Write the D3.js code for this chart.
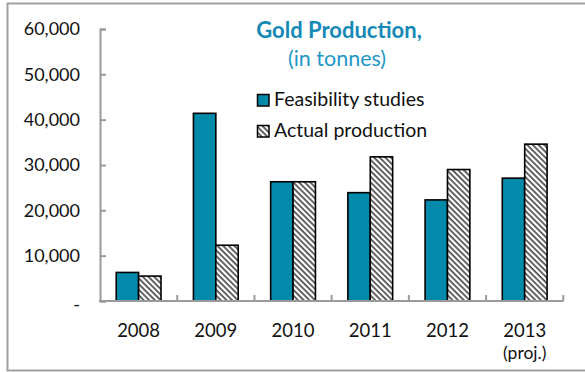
<!DOCTYPE html>
<html>
<head>
<meta charset="utf-8">
<script src="https://cdn.jsdelivr.net/npm/d3@7/dist/d3.min.js"></script>
<style>
  html, body { margin: 0; padding: 0; background: #fff; }
  svg { display: block; font-family: Lato, "Open Sans", sans-serif; }
</style>
</head>
<body>
<svg id="chart" width="585" height="372"></svg>
<script>
// Gold production data (tonnes)
const years = ["2008", "2009", "2010", "2011", "2012", "2013"];
const yearNotes = ["", "", "", "", "", "(proj.)"];
const seriesNames = ["Feasibility studies", "Actual production"];
const feasibility = [6300, 41400, 26300, 23900, 22300, 27100];
const actual = [5500, 12300, 26300, 31800, 29000, 34600];
const yTicks = [0, 10000, 20000, 30000, 40000, 50000, 60000];

const teal = "#0389aa";
const axisGray = "#9a9a9a";

const svg = d3.select("#chart");

// hatch pattern for actual production ("\" stripes)
const defs = svg.append("defs");
const pat = defs.append("pattern")
  .attr("id", "hatch")
  .attr("patternUnits", "userSpaceOnUse")
  .attr("width", 4).attr("height", 4)
  .attr("patternTransform", "rotate(45)");
pat.append("rect").attr("width", 4).attr("height", 4).attr("fill", "#fff");
pat.append("rect").attr("x", 0).attr("y", 0).attr("width", 4).attr("height", 1.7).attr("fill", "#4a4a4a");

// outer frame
svg.append("rect")
  .attr("x", 7.5).attr("y", 3.5)
  .attr("width", 620).attr("height", 367)
  .attr("fill", "none").attr("stroke", "#a0a0a0").attr("stroke-width", 2);

const plot = { left: 100, right: 563.3, top: 29, bottom: 301 };

const y = d3.scaleLinear().domain([0, 60000]).range([plot.bottom, plot.top]);
const x0 = d3.scaleBand().domain(years).range([plot.left, plot.right])
  .paddingInner(0.42).paddingOuter(0.21);
const x1 = d3.scaleBand().domain(seriesNames).range([0, x0.bandwidth()]);

const rows = years.map((yr, i) => ({ year: yr, values: [
  { key: seriesNames[0], value: feasibility[i] },
  { key: seriesNames[1], value: actual[i] }
]}));

// bars
const groups = svg.append("g").selectAll("g").data(rows).join("g")
  .attr("transform", d => `translate(${x0(d.year)},0)`);
groups.selectAll("rect").data(d => d.values).join("rect")
  .attr("x", d => x1(d.key))
  .attr("y", d => y(d.value))
  .attr("width", x1.bandwidth())
  .attr("height", d => y(0) - y(d.value))
  .attr("fill", d => d.key === seriesNames[0] ? teal : "url(#hatch)")
  .attr("stroke", "#000").attr("stroke-width", 1.6);

// y axis with inward ticks
const yAxis = svg.append("g")
  .attr("transform", `translate(${plot.left},0)`)
  .call(d3.axisLeft(y).tickValues(yTicks).tickSize(-6).tickPadding(20)
    .tickFormat(d => d === 0 ? "-" : d3.format(",")(d)));
yAxis.select(".domain").attr("stroke", axisGray).attr("stroke-width", 2);
yAxis.selectAll(".tick line").attr("stroke", axisGray).attr("stroke-width", 2);
yAxis.selectAll(".tick text").attr("font-size", 18).attr("fill", "#111")
  .attr("font-family", "Lato, sans-serif");
yAxis.selectAll(".tick").filter(d => d === 0).select("text").attr("dy", "0.55em");

// x axis: boundary ticks between categories
const step = x0.step();
const half = (step - x0.bandwidth()) / 2;
const bounds = years.map(yr => x0(yr) + x0.bandwidth() + half);
const xLine = svg.append("g");
xLine.append("line")
  .attr("x1", plot.left - 1).attr("x2", plot.right)
  .attr("y1", plot.bottom).attr("y2", plot.bottom)
  .attr("stroke", axisGray).attr("stroke-width", 2);
xLine.selectAll("line.tk").data(bounds).join("line").attr("class", "tk")
  .attr("x1", d => d).attr("x2", d => d)
  .attr("y1", plot.bottom).attr("y2", plot.bottom - 6)
  .attr("stroke", axisGray).attr("stroke-width", 2);

// x labels
const xg = svg.append("g").attr("font-size", 18.5).attr("fill", "#111")
  .attr("text-anchor", "middle");
xg.selectAll("text.yr").data(years).join("text").attr("class", "yr")
  .attr("x", d => x0(d) + x0.bandwidth() / 2)
  .attr("y", 337)
  .text(d => d);
xg.selectAll("text.note").data(years.filter((d, i) => yearNotes[i]))
  .join("text").attr("class", "note")
  .attr("x", d => x0(d) + x0.bandwidth() / 2)
  .attr("y", 358.5)
  .attr("font-size", 17.5)
  .text(d => yearNotes[years.indexOf(d)]);

// title
svg.append("text").attr("x", 339).attr("y", 38).attr("text-anchor", "middle")
  .attr("font-size", 22).attr("font-weight", "bold").attr("fill", "#1589b6")
  .text("Gold Production,");
svg.append("text").attr("x", 337).attr("y", 66).attr("text-anchor", "middle")
  .attr("font-size", 21.5).attr("fill", "#1e96c6")
  .text("(in tonnes)");

// legend
const legend = svg.append("g").selectAll("g").data(seriesNames).join("g")
  .attr("transform", (d, i) => `translate(257,${94 + i * 31})`);
legend.append("rect")
  .attr("x", 0.5).attr("y", 0.5).attr("width", 11.5).attr("height", 11.5)
  .attr("fill", (d, i) => i === 0 ? teal : "url(#hatch)")
  .attr("stroke", "#000").attr("stroke-width", 1.5);
legend.append("text")
  .attr("x", 17).attr("y", 11.5)
  .attr("font-size", 19.5).attr("fill", "#111")
  .text(d => d);
</script>
</body>
</html>
